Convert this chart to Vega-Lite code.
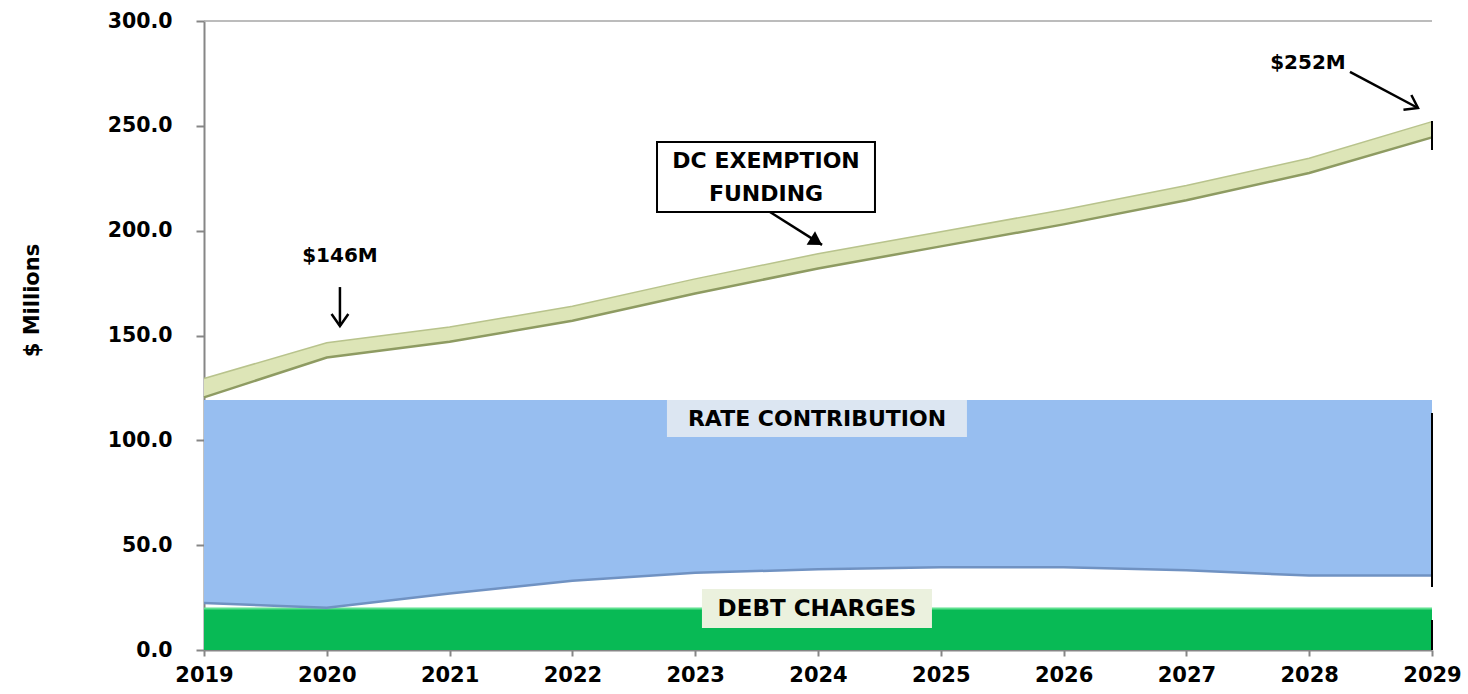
{
  "$schema": "https://vega.github.io/schema/vega-lite/v6.json",
  "autosize": {"type": "none"},
  "padding": {"left": 204, "top": 21, "right": 36, "bottom": 44},
  "width": 1228,
  "height": 629,
  "background": "white",
  "config": {
    "view": {"stroke": null},
    "font": "DejaVu Sans"
  },
  "datasets": {
    "series": [
      {"year": 2019, "debt": 19.8, "rate_low": 22.4, "rate_high": 119.2, "dc_low": 120.5, "dc_high": 129.5},
      {"year": 2020, "debt": 19.8, "rate_low": 20.2, "rate_high": 119.2, "dc_low": 139.5, "dc_high": 146.5},
      {"year": 2021, "debt": 19.8, "rate_low": 27, "rate_high": 119.2, "dc_low": 147, "dc_high": 154},
      {"year": 2022, "debt": 19.8, "rate_low": 33, "rate_high": 119.2, "dc_low": 157, "dc_high": 164},
      {"year": 2023, "debt": 19.8, "rate_low": 36.8, "rate_high": 119.2, "dc_low": 170, "dc_high": 177},
      {"year": 2024, "debt": 19.8, "rate_low": 38.5, "rate_high": 119.2, "dc_low": 182, "dc_high": 189},
      {"year": 2025, "debt": 19.8, "rate_low": 39.5, "rate_high": 119.2, "dc_low": 192.5, "dc_high": 199.5},
      {"year": 2026, "debt": 19.8, "rate_low": 39.5, "rate_high": 119.2, "dc_low": 203, "dc_high": 210},
      {"year": 2027, "debt": 19.8, "rate_low": 38, "rate_high": 119.2, "dc_low": 214.5, "dc_high": 221.5},
      {"year": 2028, "debt": 19.8, "rate_low": 35.5, "rate_high": 119.2, "dc_low": 227.5, "dc_high": 234.5},
      {"year": 2029, "debt": 19.8, "rate_low": 35.5, "rate_high": 119.2, "dc_low": 244.5, "dc_high": 252}
    ]
  },
  "layer": [
    {
      "data": {"values": [{"v": 300}]},
      "mark": {"type": "rule", "color": "#A6A6A6", "strokeWidth": 1.5},
      "encoding": {"y": {"field": "v", "type": "quantitative"}}
    },
    {
      "data": {"name": "series"},
      "mark": {"type": "area", "color": "#08BA55"},
      "encoding": {
        "x": {
          "field": "year", "type": "quantitative",
          "scale": {"domain": [2019, 2029], "nice": false, "zero": false},
          "axis": {
            "title": null,
            "values": [2019, 2020, 2021, 2022, 2023, 2024, 2025, 2026, 2027, 2028, 2029],
            "format": "d",
            "labelFont": "DejaVu Sans", "labelFontWeight": "bold", "labelFontSize": 21, "labelColor": "black",
            "labelPadding": 8, "labelFlush": false, "labelOverlap": false,
            "domainColor": "#868686", "domainWidth": 2,
            "tickColor": "#868686", "tickWidth": 2, "tickSize": 6,
            "grid": false
          }
        },
        "y": {
          "field": "debt", "type": "quantitative",
          "scale": {"domain": [0, 300], "nice": false},
          "axis": {
            "title": "$ Millions",
            "titleFont": "DejaVu Sans", "titleFontWeight": "bold", "titleFontSize": 21, "titleColor": "black",
            "titleX": -172, "titleY": 279, "titleAngle": -90, "titleAlign": "center", "titleBaseline": "middle",
            "values": [0, 50, 100, 150, 200, 250, 300],
            "format": ".1f",
            "labelFont": "DejaVu Sans", "labelFontWeight": "bold", "labelFontSize": 20.5, "labelColor": "black",
            "labelPadding": 24,
            "domainColor": "#868686", "domainWidth": 2,
            "tickColor": "#868686", "tickWidth": 2, "tickSize": 8,
            "grid": false
          }
        }
      }
    },
    {
      "data": {"values": [{"label": "Capital Funding Sources", "x": 2024.07, "y": 314.0}]},
      "mark": {"type": "text", "font": "DejaVu Sans", "fontWeight": "bold", "fontSize": 33.6, "color": "black", "align": "center", "baseline": "alphabetic"},
      "encoding": {
        "x": {"field": "x", "type": "quantitative"},
        "y": {"field": "y", "type": "quantitative"},
        "text": {"field": "label"}
      }
    },
    {
      "data": {"name": "series"},
      "mark": {"type": "line", "color": "#5FE08F", "strokeWidth": 2},
      "encoding": {
        "x": {"field": "year", "type": "quantitative"},
        "y": {"field": "debt", "type": "quantitative"}
      }
    },
    {
      "data": {"name": "series"},
      "mark": {"type": "area", "color": "#97BEF0"},
      "encoding": {
        "x": {"field": "year", "type": "quantitative"},
        "y": {"field": "rate_high", "type": "quantitative"},
        "y2": {"field": "rate_low"}
      }
    },
    {
      "data": {"name": "series"},
      "mark": {"type": "line", "color": "#7092C2", "strokeWidth": 2.5},
      "encoding": {
        "x": {"field": "year", "type": "quantitative"},
        "y": {"field": "rate_low", "type": "quantitative"}
      }
    },
    {
      "data": {"name": "series"},
      "mark": {"type": "area", "color": "#DDE5B7"},
      "encoding": {
        "x": {"field": "year", "type": "quantitative"},
        "y": {"field": "dc_high", "type": "quantitative"},
        "y2": {"field": "dc_low"}
      }
    },
    {
      "data": {"name": "series"},
      "mark": {"type": "line", "color": "#8E9B62", "strokeWidth": 2.5},
      "encoding": {
        "x": {"field": "year", "type": "quantitative"},
        "y": {"field": "dc_low", "type": "quantitative"}
      }
    },
    {
      "data": {"name": "series"},
      "mark": {"type": "line", "color": "#B8C38C", "strokeWidth": 1.5},
      "encoding": {
        "x": {"field": "year", "type": "quantitative"},
        "y": {"field": "dc_high", "type": "quantitative"}
      }
    },
    {
      "data": {"values": [
        {"x": 2029, "y": 252.3, "y2": 238.5},
        {"x": 2029, "y": 113, "y2": 30},
        {"x": 2029, "y": 14.3, "y2": 0}
      ]},
      "mark": {"type": "rule", "color": "black", "strokeWidth": 2},
      "encoding": {
        "x": {"field": "x", "type": "quantitative"},
        "y": {"field": "y", "type": "quantitative"},
        "y2": {"field": "y2"}
      }
    },
    {
      "data": {"values": [
        {"x1": 2022.689, "x2": 2024.464, "y1": 242.3, "y2": 208.9}
      ]},
      "mark": {"type": "rect", "fill": "white", "stroke": "black", "strokeWidth": 2},
      "encoding": {
        "x": {"field": "x1", "type": "quantitative"},
        "x2": {"field": "x2"},
        "y": {"field": "y1", "type": "quantitative"},
        "y2": {"field": "y2"}
      }
    },
    {
      "data": {"values": [
        {"x1": 2022.77, "x2": 2025.213, "y1": 119.2, "y2": 101.6}
      ]},
      "mark": {"type": "rect", "fill": "#DCE6F2"},
      "encoding": {
        "x": {"field": "x1", "type": "quantitative"},
        "x2": {"field": "x2"},
        "y": {"field": "y1", "type": "quantitative"},
        "y2": {"field": "y2"}
      }
    },
    {
      "data": {"values": [
        {"x1": 2023.055, "x2": 2024.928, "y1": 29.1, "y2": 10.5}
      ]},
      "mark": {"type": "rect", "fill": "#EBF1DE"},
      "encoding": {
        "x": {"field": "x1", "type": "quantitative"},
        "x2": {"field": "x2"},
        "y": {"field": "y1", "type": "quantitative"},
        "y2": {"field": "y2"}
      }
    },
    {
      "data": {"values": [
        {"label": "RATE CONTRIBUTION", "x": 2023.992, "y": 110.2},
        {"label": "DC EXEMPTION", "x": 2023.577, "y": 233.0},
        {"label": "FUNDING", "x": 2023.577, "y": 217.4}
      ]},
      "mark": {"type": "text", "font": "DejaVu Sans", "fontWeight": "bold", "fontSize": 22, "color": "black", "align": "center", "baseline": "middle"},
      "encoding": {
        "x": {"field": "x", "type": "quantitative"},
        "y": {"field": "y", "type": "quantitative"},
        "text": {"field": "label"}
      }
    },
    {
      "data": {"values": [
        {"label": "DEBT CHARGES", "x": 2023.992, "y": 19.6}
      ]},
      "mark": {"type": "text", "font": "DejaVu Sans", "fontWeight": "bold", "fontSize": 23, "color": "black", "align": "center", "baseline": "middle"},
      "encoding": {
        "x": {"field": "x", "type": "quantitative"},
        "y": {"field": "y", "type": "quantitative"},
        "text": {"field": "label"}
      }
    },
    {
      "data": {"values": [
        {"label": "$146M", "x": 2020.107, "y": 187.9},
        {"label": "$252M", "x": 2027.99, "y": 280.0}
      ]},
      "mark": {"type": "text", "font": "DejaVu Sans", "fontWeight": "bold", "fontSize": 20, "color": "black", "align": "center", "baseline": "middle"},
      "encoding": {
        "x": {"field": "x", "type": "quantitative"},
        "y": {"field": "y", "type": "quantitative"},
        "text": {"field": "label"}
      }
    },
    {
      "data": {"values": [
        {"x1": 2020.107, "y1": 173.1, "x2": 2020.107, "y2": 154.5},
        {"x1": 2028.332, "y1": 275.7, "x2": 2028.886, "y2": 258.5},
        {"x1": 2023.609, "y1": 208.9, "x2": 2024.033, "y2": 193.2}
      ]},
      "mark": {"type": "rule", "color": "black", "strokeWidth": 2.5},
      "encoding": {
        "x": {"field": "x1", "type": "quantitative"},
        "y": {"field": "y1", "type": "quantitative"},
        "x2": {"field": "x2"},
        "y2": {"field": "y2"}
      }
    },
    {
      "data": {"values": [{"x": 2020.107, "y": 154.5}]},
      "mark": {"type": "point", "shape": "M-0.7,-1L0,0L0.7,-1", "filled": false, "stroke": "black", "strokeWidth": 2.5, "size": 576, "angle": 0, "opacity": 1},
      "encoding": {
        "x": {"field": "x", "type": "quantitative"},
        "y": {"field": "y", "type": "quantitative"}
      }
    },
    {
      "data": {"values": [{"x": 2028.886, "y": 258.5}]},
      "mark": {"type": "point", "shape": "M-0.7,-1L0,0L0.7,-1", "filled": false, "stroke": "black", "strokeWidth": 2.5, "size": 576, "angle": 298, "opacity": 1},
      "encoding": {
        "x": {"field": "x", "type": "quantitative"},
        "y": {"field": "y", "type": "quantitative"}
      }
    },
    {
      "data": {"values": [{"x": 2024.033, "y": 193.2}]},
      "mark": {"type": "point", "shape": "M-0.6,-1L0,0L0.6,-1Z", "filled": true, "color": "black", "size": 700, "angle": 302, "opacity": 1},
      "encoding": {
        "x": {"field": "x", "type": "quantitative"},
        "y": {"field": "y", "type": "quantitative"}
      }
    }
  ]
}
